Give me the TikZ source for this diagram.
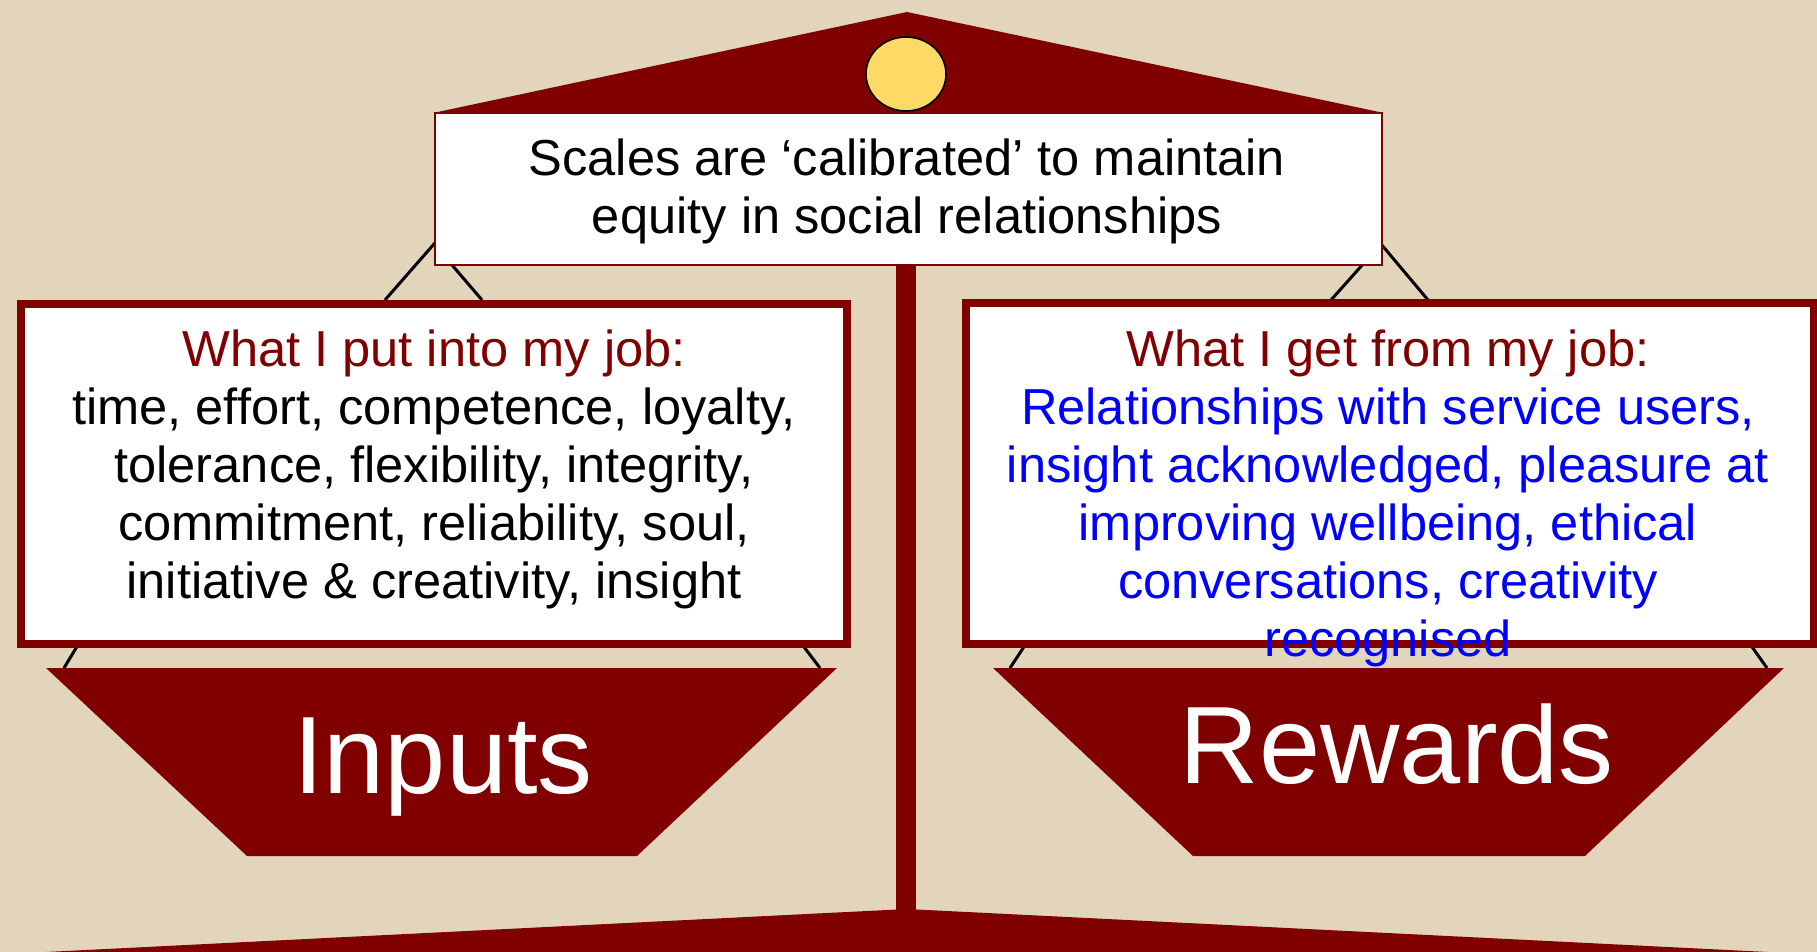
\documentclass[tikz,border=0pt]{standalone}
\usepackage{fontspec}
\setmainfont{Liberation Sans}
\usetikzlibrary{positioning, shapes.geometric}
\definecolor{ScaleRed}{HTML}{800000}
\definecolor{Parchment}{HTML}{E3D5BC}
\definecolor{KnobYellow}{HTML}{FFD966}
\definecolor{RewardBlue}{HTML}{0000FF}

\begin{document}
\begin{tikzpicture}[x=0.5pt, y=-0.5pt,
  wood/.style={fill=ScaleRed, draw=none},
  cord/.style={draw=black, line width=1.5pt},
  card/.style={fill=white, draw=ScaleRed, line width=4pt},
  cardtext/.style={align=center, inner sep=0pt,
    font=\fontsize{25.3}{29}\selectfont},
  panlabel/.style={anchor=base, inner sep=0pt, text=white,
    font=\fontsize{55}{66}\selectfont}
]

% Background
\useasboundingbox (0,0) rectangle (1817,952);
\fill[Parchment] (0,0) rectangle (1817,952);
\clip (0,0) rectangle (1817,952);

% Stand: base, pole, roof and knob
\fill[wood] (907,909) -- (6,954) -- (1808,954) -- cycle;
\fill[wood] (896,250) rectangle (916,912);
\fill[wood] (907,12) -- (1384,113) -- (433,113) -- cycle;
\node[ellipse, minimum width=40pt, minimum height=37pt, inner sep=0pt,
  fill=KnobYellow, draw=black, line width=0.8pt] (knob) at (906,74) {};

% Cords
\coordinate (lhook) at (434,244);
\coordinate (rhook) at (1381,244);
\draw[cord] (385,300) -- (lhook) -- (482,300);
\draw[cord] (1331,300) -- (rhook) -- (1428,300);
\draw[cord] (64,668) -- (87,630);
\draw[cord] (820,668) -- (791,630);
\draw[cord] (1010,668) -- (1035,630);
\draw[cord] (1767,668) -- (1740,630);

% Cards
\draw[fill=white, draw=ScaleRed, line width=1.2pt] (435,113) rectangle (1382,265);
\draw[card] (21,304) rectangle (847,644);
\draw[card] (966,303) rectangle (1814,644);

% Pans
\fill[wood] (46,668) -- (837,668) -- (637,856) -- (247,856) -- cycle;
\fill[wood] (993,668) -- (1784,668) -- (1585,856) -- (1193,856) -- cycle;

% Texts
\node[cardtext] (balance) at (907,191)
  {Scales are `calibrated' to maintain\\equity in social relationships};
\node[cardtext] (putin) at (434,469)
  {{\color{ScaleRed}What I put into my job:}\\
   time, effort, competence, loyalty,\\
   tolerance, flexibility, integrity,\\
   commitment, reliability, soul,\\
   initiative \& creativity, insight};
\node[cardtext, text=RewardBlue] (getout) at (1388,498)
  {{\color{ScaleRed}What I get from my job:}\\
   Relationships with service users,\\
   insight acknowledged, pleasure at\\
   improving wellbeing, ethical\\
   conversations, creativity\\
   recognised};
\node[panlabel] (inputs) at (443,793) {Inputs};
\node[panlabel] (rewards) at (1397,783) {Rewards};

\end{tikzpicture}
\end{document}
